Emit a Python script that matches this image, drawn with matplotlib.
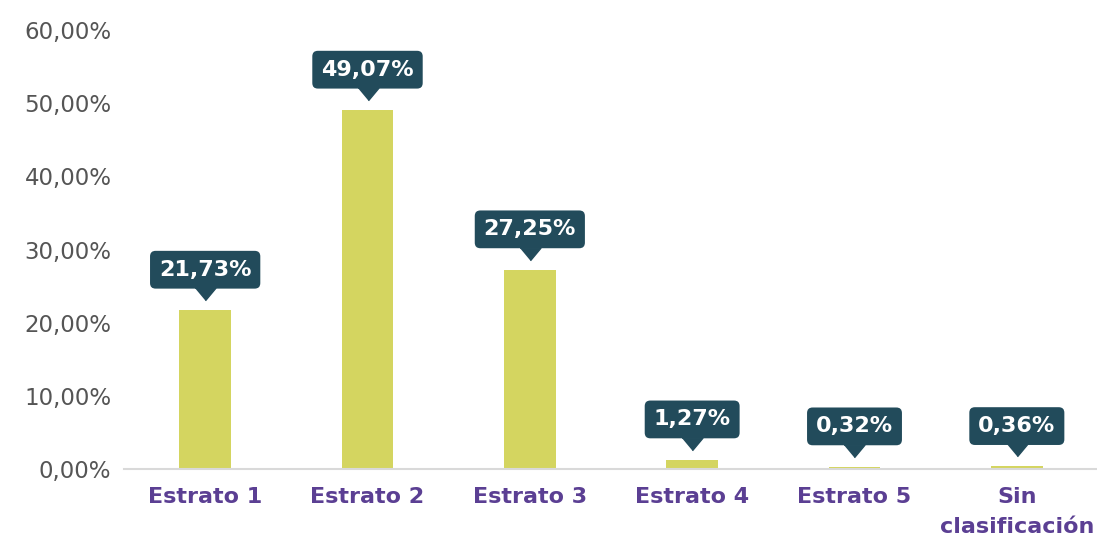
import matplotlib
matplotlib.use("Agg")
import matplotlib.pyplot as plt
import matplotlib.transforms as mtransforms

categories = ["Estrato 1", "Estrato 2", "Estrato 3", "Estrato 4", "Estrato 5", "Sin\nclasificación"]
values = [21.73, 49.07, 27.25, 1.27, 0.32, 0.36]
labels = ["21,73%", "49,07%", "27,25%", "1,27%", "0,32%", "0,36%"]
yticks = [0, 10, 20, 30, 40, 50, 60]
ytick_labels = ["0,00%", "10,00%", "20,00%", "30,00%", "40,00%", "50,00%", "60,00%"]

BAR = "#d4d560"
BOX = "#224b5b"
PURPLE = "#5b3f93"
GRAY = "#555555"

plt.rcParams['font.family'] = ['DejaVu Sans']

fig = plt.figure(figsize=(10.97, 5.43), dpi=100)
ax = fig.add_axes([124/1097, 74/543, 974/1097, 439/543])
x = list(range(len(categories)))
ax.bar(x, values, width=0.32, color=BAR, zorder=2)
ax.set_xlim(-0.5, len(categories) - 0.5)
ax.set_ylim(0, 60)
ax.set_yticks(yticks)
ax.set_yticklabels(ytick_labels, fontsize=16.5, color=GRAY)
ax.set_xticks(x)
ax.set_xticklabels(categories, fontsize=16, color=PURPLE, fontweight='bold', linespacing=1.6)
ax.tick_params(axis='both', length=0)
ax.tick_params(axis='y', pad=9)
ax.tick_params(axis='x', pad=13)
for s in ['top', 'right', 'left']:
    ax.spines[s].set_visible(False)
ax.spines['bottom'].set_color('#d9d9d9')
ax.spines['bottom'].set_linewidth(1.5)

tri = [(-1, 0.6), (1, 0.6), (0, -0.6)]
for xi, v, lab in zip(x, values, labels):
    ax.annotate(lab, xy=(xi, v), xytext=(0, 29), textcoords='offset points',
                ha='center', va='center', fontsize=16, fontweight='bold', color='white',
                bbox=dict(boxstyle='round,pad=0.4,rounding_size=0.25', fc=BOX, ec='none'),
                zorder=4)
    off = mtransforms.offset_copy(ax.transData, fig=fig, x=0, y=11.5, units='points')
    ax.plot([xi], [v], marker=tri, markersize=15, color=BOX, transform=off,
            clip_on=False, zorder=3, linestyle='none')

fig.savefig("out.png", dpi=100)
